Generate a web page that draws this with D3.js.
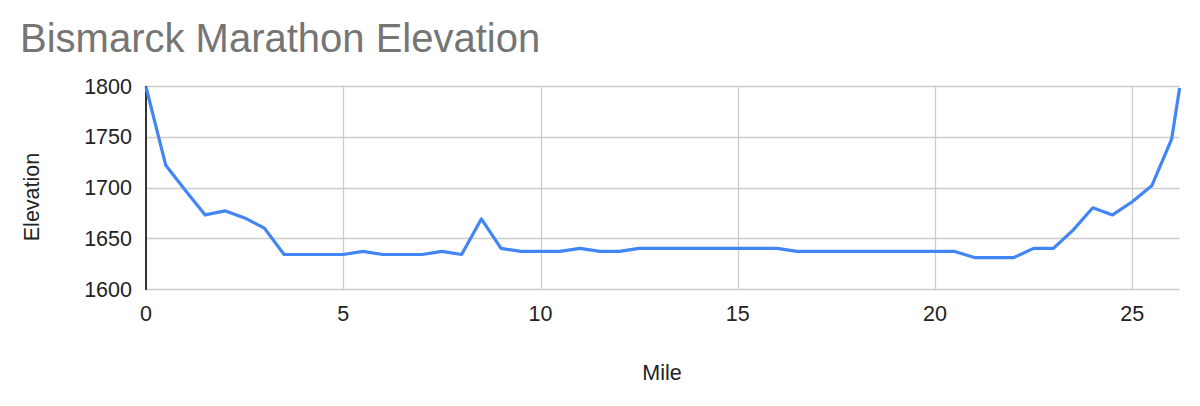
<!DOCTYPE html>
<html>
<head>
<meta charset="utf-8">
<script src="https://cdn.jsdelivr.net/npm/d3@7"></script>
<style>
  html, body { margin: 0; padding: 0; background: #fff; }
  svg { display: block; font-family: "Liberation Sans", Arial, sans-serif; }
</style>
</head>
<body>
<svg id="chart" width="1200" height="406"></svg>
<script>
const miles = [0, 0.5, 1, 1.5, 2, 2.5, 3, 3.5, 4, 4.5, 5, 5.5, 6, 6.5, 7, 7.5, 8, 8.5, 9, 9.5,
  10, 10.5, 11, 11.5, 12, 12.5, 13, 13.5, 14, 14.5, 15, 15.5, 16, 16.5, 17, 17.5, 18, 18.5, 19, 19.5,
  20, 20.5, 21, 21.5, 22, 22.5, 23, 23.5, 24, 24.5, 25, 25.5, 26, 26.2];
const elevation = [1799, 1722, 1697, 1673, 1677, 1670, 1660, 1634, 1634, 1634, 1634, 1637, 1634, 1634, 1634, 1637, 1634, 1669, 1640, 1637,
  1637, 1637, 1640, 1637, 1637, 1640, 1640, 1640, 1640, 1640, 1640, 1640, 1640, 1637, 1637, 1637, 1637, 1637, 1637, 1637,
  1637, 1637, 1631, 1631, 1631, 1640, 1640, 1658, 1680, 1673, 1686, 1702, 1748, 1798];
const xTicks = [0, 5, 10, 15, 20, 25];
const yTicks = [1600, 1650, 1700, 1750, 1800];
const titleText = "Bismarck Marathon Elevation";
const xTitle = "Mile";
const yTitle = "Elevation";

(function () {
const svg = d3.select("#chart");
const pl = 146, pr = 1179.6, pt = 86, pb = 289;

const x = d3.scaleLinear().domain([0, 26.2]).range([pl, pr]);
const y = d3.scaleLinear().domain([1600, 1800]).range([pb, pt]);

// title
svg.append("text").attr("x", 20).attr("y", 52)
  .attr("font-size", 40).attr("fill", "#757575").text(titleText);

// horizontal gridlines
svg.append("g").selectAll("line").data(yTicks).join("line")
  .attr("x1", pl).attr("x2", pr)
  .attr("y1", d => Math.round(y(d)) + 0.5).attr("y2", d => Math.round(y(d)) + 0.5)
  .attr("stroke", "#cccccc").attr("stroke-width", 1.3);

// vertical gridlines
svg.append("g").selectAll("line").data(xTicks.filter(d => d > 0)).join("line")
  .attr("x1", d => Math.round(x(d)) + 0.5).attr("x2", d => Math.round(x(d)) + 0.5)
  .attr("y1", pt).attr("y2", pb)
  .attr("stroke", "#cccccc").attr("stroke-width", 1.3);

// y tick labels
svg.append("g").selectAll("text").data(yTicks).join("text")
  .attr("x", 132).attr("y", d => y(d) + 7.5)
  .attr("text-anchor", "end").attr("font-size", 21.5).attr("fill", "#222")
  .text(d => d);

// x tick labels
svg.append("g").selectAll("text").data(xTicks).join("text")
  .attr("x", d => x(d)).attr("y", 321)
  .attr("text-anchor", "middle").attr("font-size", 21.5).attr("fill", "#222")
  .text(d => d);

// left axis line
svg.append("line").attr("x1", pl).attr("x2", pl).attr("y1", pt).attr("y2", pb + 1)
  .attr("stroke", "#333").attr("stroke-width", 2);

// data line
const line = d3.line().x((d, i) => x(miles[i])).y(d => y(d));
svg.append("path").datum(elevation)
  .attr("d", line).attr("fill", "none")
  .attr("stroke", "#4285F4").attr("stroke-width", 3.2)
  .attr("stroke-linejoin", "round");

// axis titles
svg.append("text").attr("x", 662).attr("y", 380)
  .attr("text-anchor", "middle").attr("font-size", 21.5).attr("fill", "#222").text(xTitle);
svg.append("text").attr("transform", "translate(39,197) rotate(-90)")
  .attr("text-anchor", "middle").attr("font-size", 21.5).attr("fill", "#222").text(yTitle);
})();
</script>
</body>
</html>
